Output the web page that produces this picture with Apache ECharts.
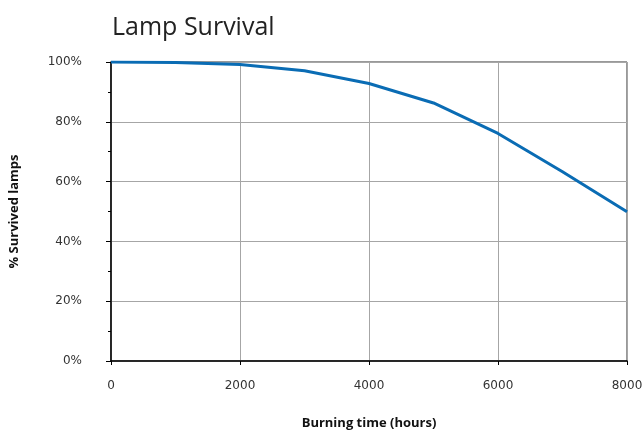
<!DOCTYPE html>
<html>
<head>
<meta charset="utf-8">
<script src="https://cdn.jsdelivr.net/npm/echarts@6/dist/echarts.min.js"></script>
<style>
html, body { margin: 0; padding: 0; background: #fff; }
#main { width: 644px; height: 430px; }
</style>
</head>
<body>
<div id="main"></div>
<script>
// burning hours and survival (%)
var hours = [0, 1000, 2000, 3000, 4000, 5000, 6000, 7000, 8000];
var survived = [100, 99.8, 99.2, 97.1, 92.8, 86.3, 76.1, 63.3, 49.9];

window.onload = () => {
	var myChart = echarts.init(document.getElementById('main'));

	var pts = hours.map(function (h, i) { return [h, survived[i]]; });

	var option = {
		backgroundColor: '#ffffff',
		animation: false,
		title: {
			text: 'Lamp Survival',
			left: 107, top: 10,
			textStyle: { fontFamily: 'Open Sans', fontWeight: 'normal', fontSize: 25, color: '#222' }
		},
		grid: {
			left: 111, right: 17, top: 62, bottom: 69,
			outerBoundsMode: 'none',
			show: true, borderColor: '#333', borderWidth: 1
		},
		xAxis: {
			type: 'value', min: 0, max: 8000, interval: 2000,
			name: 'Burning time (hours)', nameLocation: 'middle', nameGap: 56,
			nameTextStyle: { fontFamily: 'Open Sans', fontWeight: 'bold', fontSize: 13, color: '#111' },
			axisLine: { lineStyle: { color: '#000', width: 1.5 } },
			axisTick: { show: true, length: 4, lineStyle: { color: '#000' } },
			axisLabel: { fontFamily: 'DejaVu Sans', fontSize: 12, color: '#333', margin: 19, formatter: function (v) { return String(v); } },
			splitLine: { show: true, lineStyle: { color: '#a6a6a6', width: 1 } }
		},
		yAxis: {
			type: 'value', min: 0, max: 100, interval: 20,
			name: '% Survived lamps', nameLocation: 'middle', nameGap: 90,
			nameTextStyle: { fontFamily: 'Open Sans', fontWeight: 'bold', fontSize: 13, color: '#111' },
			axisLine: { show: true, lineStyle: { color: '#000', width: 1.5 } },
			axisTick: { show: true, length: 5, lineStyle: { color: '#000' } },
			minorTick: { show: true, splitNumber: 2, length: 3, lineStyle: { color: '#000' } },
			axisLabel: { fontFamily: 'DejaVu Sans', fontSize: 12, color: '#333', margin: 29, formatter: '{value}%' },
			splitLine: { show: true, lineStyle: { color: '#a6a6a6', width: 1 } }
		},
		series: [{
			type: 'line',
			data: pts,
			symbol: 'none',
			lineStyle: { color: '#0a6cb4', width: 3 }
		}]
	};

	myChart.setOption(option);
};
</script>
</body>
</html>
